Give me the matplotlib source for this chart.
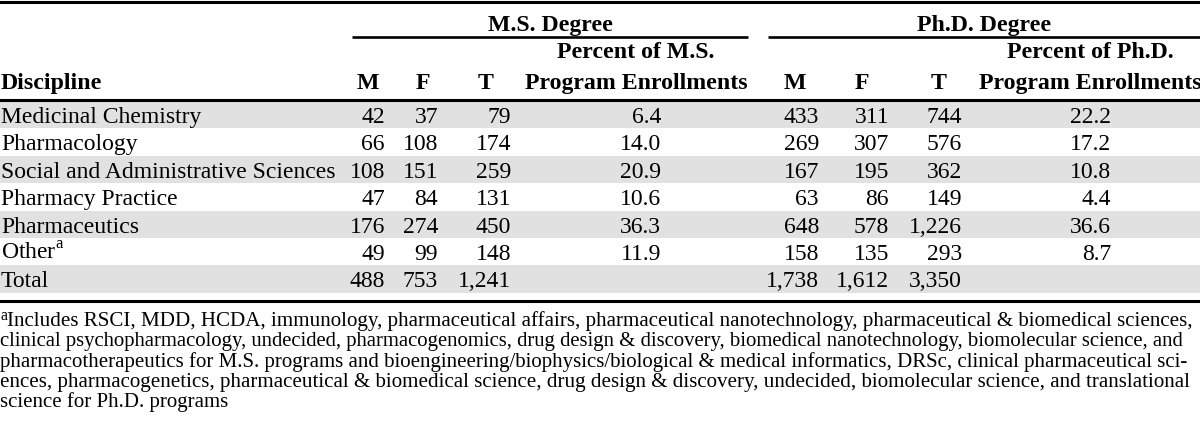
import matplotlib
matplotlib.use("Agg")
import matplotlib.pyplot as plt

plt.rcParams["font.family"] = ["Liberation Serif", "DejaVu Serif"]
plt.rcParams["mathtext.fontset"] = "custom"
plt.rcParams["mathtext.rm"] = "Liberation Serif"

# table content
disciplines = [
    "Medicinal Chemistry",
    "Pharmacology",
    "Social and Administrative Sciences",
    "Pharmacy Practice",
    "Pharmaceutics",
    "Other$^{\\mathrm{a}}$",
    "Total",
]
ms_m = ["42", "66", "108", "47", "176", "49", "488"]
ms_f = ["37", "108", "151", "84", "274", "99", "753"]
ms_t = ["79", "174", "259", "131", "450", "148", "1,241"]
ms_pct = ["6.4", "14.0", "20.9", "10.6", "36.3", "11.9", ""]
phd_m = ["433", "269", "167", "63", "648", "158", "1,738"]
phd_f = ["311", "307", "195", "86", "578", "135", "1,612"]
phd_t = ["744", "576", "362", "149", "1,226", "293", "3,350"]
phd_pct = ["22.2", "17.2", "10.8", "4.4", "36.6", "8.7", ""]

sub_headers = ["M", "F", "T", "Percent of M.S.\nProgram Enrollments",
               "M", "F", "T", "Percent of Ph.D.\nProgram Enrollments"]
group_headers = ["M.S. Degree", "Ph.D. Degree"]

footnote_lines = [
    "Includes RSCI, MDD, HCDA, immunology, pharmaceutical affairs, pharmaceutical nanotechnology, pharmaceutical & biomedical sciences,",
    "clinical psychopharmacology, undecided, pharmacogenomics, drug design & discovery, biomedical nanotechnology, biomolecular science, and",
    "pharmacotherapeutics for M.S. programs and bioengineering/biophysics/biological & medical informatics, DRSc, clinical pharmaceutical sci-",
    "ences, pharmacogenetics, pharmaceutical & biomedical science, drug design & discovery, undecided, biomolecular science, and translational",
    "science for Ph.D. programs",
]

# layout (pixel units)
W, H = 1200, 430
FS = 17
FS_HEAD = 17.2
FS_NOTE = 15
ROW_TOP = 101
ROW_H = 27.4
SHADE = "#e1e1e1"
RULE = 2.2

col_right = [385, 438, 511, 661, 819, 889, 962, 1111]
col_head = [368, 423, 486, 636, 795, 862, 939, 1090]
group_span = [(352, 748), (768, 1200)]

fig = plt.figure(figsize=(W / 100, H / 100), dpi=100)
ax = fig.add_axes([0, 0, 1, 1])
ax.set_xlim(0, W)
ax.set_ylim(H, 0)
ax.axis("off")

# shaded rows
for i in range(len(disciplines)):
    if i % 2 == 0:
        ax.axhspan(ROW_TOP + i * ROW_H, ROW_TOP + (i + 1) * ROW_H,
                   color=SHADE, lw=0, zorder=0)

# rules
ax.axhline(1.5, color="black", lw=RULE)
ax.axhline(99.5, color="black", lw=RULE)
ax.axhline(301, color="black", lw=RULE)
for x0, x1 in group_span:
    ax.plot([x0, x1], [36.7, 36.7], color="black", lw=1.9, solid_capstyle="butt")

# headers
for (x0, x1), name in zip(group_span, group_headers):
    ax.text((x0 + x1) / 2, 30.5, name, ha="center", va="baseline",
            fontsize=FS_HEAD, fontweight="bold")
ax.text(1, 89, "Discipline", ha="left", va="baseline", fontsize=FS_HEAD, fontweight="bold")
for x, label in zip(col_head, sub_headers):
    lines = label.split("\n")
    for k, line in enumerate(reversed(lines)):
        ax.text(x, 89 - k * 30.5, line, ha="center", va="baseline",
                fontsize=FS_HEAD, fontweight="bold")

# body
columns = [ms_m, ms_f, ms_t, ms_pct, phd_m, phd_f, phd_t, phd_pct]
for i, name in enumerate(disciplines):
    base = ROW_TOP + i * ROW_H + 22
    ax.text(1, base, name, ha="left", va="baseline", fontsize=FS)
    for x, col in zip(col_right, columns):
        ax.text(x, base, col[i], ha="right", va="baseline", fontsize=FS)

# footnote: each full line nudged in size so it runs flush to the right edge
renderer = fig.canvas.get_renderer()
ax.text(0.5, 320.5, "a", fontsize=11.5, ha="left", va="baseline")
note_x = 7
right_edge = 1192
for n, line in enumerate(footnote_lines):
    y = 326 + n * 20.3
    x0 = note_x if n == 0 else 0
    t = ax.text(x0, y, line, ha="left", va="baseline", fontsize=FS_NOTE)
    if n < len(footnote_lines) - 1:
        w = t.get_window_extent(renderer).width
        scale = min(max((right_edge - x0) / w, 0.95), 1.06)
        t.set_fontsize(FS_NOTE * scale)

fig.savefig("out.png", dpi=100)
